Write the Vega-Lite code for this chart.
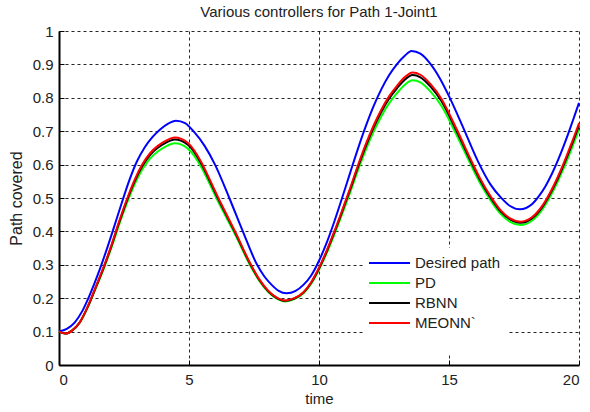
{
  "$schema": "https://vega.github.io/schema/vega-lite/v6.json",
  "width": 520,
  "height": 334,
  "autosize": {"type": "none"},
  "padding": {"left": 59, "top": 31, "right": 11, "bottom": 47},
  "background": "white",
  "title": {"text": "Various controllers for Path 1-Joint1", "font": "Liberation Sans", "fontSize": 15, "fontWeight": "normal", "color": "#222", "anchor": "middle", "offset": 4},
  "config": {
    "view": {"stroke": null},
    "axis": {
      "domainColor": "#000", "domainWidth": 2,
      "gridColor": "#000", "gridDash": [3, 3], "gridWidth": 1, "gridOpacity": 0.85,
      "tickColor": "#000", "tickSize": -5, "tickWidth": 1,
      "labelFont": "Liberation Sans", "labelFontSize": 15, "labelColor": "#222",
      "titleFont": "Liberation Sans", "titleFontSize": 15, "titleFontWeight": "normal", "titleColor": "#222"
    }
  },
  "data": {"values": [
    {"s": "Desired path", "t": 0, "v": 0.100},
    {"s": "Desired path", "t": 0.3, "v": 0.108},
    {"s": "Desired path", "t": 0.6, "v": 0.127},
    {"s": "Desired path", "t": 0.9, "v": 0.162},
    {"s": "Desired path", "t": 1.2, "v": 0.213},
    {"s": "Desired path", "t": 1.5, "v": 0.272},
    {"s": "Desired path", "t": 1.8, "v": 0.338},
    {"s": "Desired path", "t": 2.1, "v": 0.409},
    {"s": "Desired path", "t": 2.4, "v": 0.482},
    {"s": "Desired path", "t": 2.7, "v": 0.552},
    {"s": "Desired path", "t": 3.0, "v": 0.610},
    {"s": "Desired path", "t": 3.3, "v": 0.652},
    {"s": "Desired path", "t": 3.6, "v": 0.683},
    {"s": "Desired path", "t": 3.9, "v": 0.706},
    {"s": "Desired path", "t": 4.2, "v": 0.723},
    {"s": "Desired path", "t": 4.5, "v": 0.7315},
    {"s": "Desired path", "t": 4.85, "v": 0.724},
    {"s": "Desired path", "t": 5.17, "v": 0.700},
    {"s": "Desired path", "t": 5.6, "v": 0.656},
    {"s": "Desired path", "t": 6.0, "v": 0.600},
    {"s": "Desired path", "t": 6.55, "v": 0.500},
    {"s": "Desired path", "t": 7.07, "v": 0.400},
    {"s": "Desired path", "t": 7.62, "v": 0.300},
    {"s": "Desired path", "t": 7.9, "v": 0.265},
    {"s": "Desired path", "t": 8.18, "v": 0.240},
    {"s": "Desired path", "t": 8.45, "v": 0.222},
    {"s": "Desired path", "t": 8.75, "v": 0.2146},
    {"s": "Desired path", "t": 9.1, "v": 0.222},
    {"s": "Desired path", "t": 9.4, "v": 0.240},
    {"s": "Desired path", "t": 9.7, "v": 0.268},
    {"s": "Desired path", "t": 10.0, "v": 0.312},
    {"s": "Desired path", "t": 10.3, "v": 0.367},
    {"s": "Desired path", "t": 10.6, "v": 0.432},
    {"s": "Desired path", "t": 10.9, "v": 0.503},
    {"s": "Desired path", "t": 11.2, "v": 0.576},
    {"s": "Desired path", "t": 11.5, "v": 0.648},
    {"s": "Desired path", "t": 11.8, "v": 0.715},
    {"s": "Desired path", "t": 12.1, "v": 0.775},
    {"s": "Desired path", "t": 12.4, "v": 0.826},
    {"s": "Desired path", "t": 12.7, "v": 0.868},
    {"s": "Desired path", "t": 13.0, "v": 0.901},
    {"s": "Desired path", "t": 13.3, "v": 0.926},
    {"s": "Desired path", "t": 13.56, "v": 0.940},
    {"s": "Desired path", "t": 13.9, "v": 0.932},
    {"s": "Desired path", "t": 14.27, "v": 0.903},
    {"s": "Desired path", "t": 14.65, "v": 0.858},
    {"s": "Desired path", "t": 15.0, "v": 0.805},
    {"s": "Desired path", "t": 15.55, "v": 0.710},
    {"s": "Desired path", "t": 16.1, "v": 0.612},
    {"s": "Desired path", "t": 16.6, "v": 0.540},
    {"s": "Desired path", "t": 17.0, "v": 0.501},
    {"s": "Desired path", "t": 17.35, "v": 0.476},
    {"s": "Desired path", "t": 17.73, "v": 0.466},
    {"s": "Desired path", "t": 18.2, "v": 0.482},
    {"s": "Desired path", "t": 18.45, "v": 0.505},
    {"s": "Desired path", "t": 18.7, "v": 0.534},
    {"s": "Desired path", "t": 18.95, "v": 0.571},
    {"s": "Desired path", "t": 19.2, "v": 0.615},
    {"s": "Desired path", "t": 19.4, "v": 0.654},
    {"s": "Desired path", "t": 19.6, "v": 0.696},
    {"s": "Desired path", "t": 19.8, "v": 0.740},
    {"s": "Desired path", "t": 20.0, "v": 0.785},

    {"s": "PD", "t": 0, "v": 0.100},
    {"s": "PD", "t": 0.25, "v": 0.094},
    {"s": "PD", "t": 0.5, "v": 0.1029},
    {"s": "PD", "t": 0.8, "v": 0.1272},
    {"s": "PD", "t": 1.1, "v": 0.1718},
    {"s": "PD", "t": 1.4, "v": 0.2271},
    {"s": "PD", "t": 1.7, "v": 0.2843},
    {"s": "PD", "t": 2.0, "v": 0.3474},
    {"s": "PD", "t": 2.3, "v": 0.4172},
    {"s": "PD", "t": 2.6, "v": 0.4822},
    {"s": "PD", "t": 2.9, "v": 0.5394},
    {"s": "PD", "t": 3.2, "v": 0.585},
    {"s": "PD", "t": 3.5, "v": 0.618},
    {"s": "PD", "t": 3.8, "v": 0.6393},
    {"s": "PD", "t": 4.1, "v": 0.6539},
    {"s": "PD", "t": 4.45, "v": 0.6636},
    {"s": "PD", "t": 4.97, "v": 0.6471},
    {"s": "PD", "t": 5.49, "v": 0.5899},
    {"s": "PD", "t": 5.8, "v": 0.5414},
    {"s": "PD", "t": 6.13, "v": 0.488},
    {"s": "PD", "t": 6.45, "v": 0.4395},
    {"s": "PD", "t": 6.77, "v": 0.391},
    {"s": "PD", "t": 7.35, "v": 0.2989},
    {"s": "PD", "t": 7.7, "v": 0.2523},
    {"s": "PD", "t": 8.05, "v": 0.2183},
    {"s": "PD", "t": 8.35, "v": 0.1999},
    {"s": "PD", "t": 8.7, "v": 0.1902},
    {"s": "PD", "t": 9.05, "v": 0.197},
    {"s": "PD", "t": 9.4, "v": 0.2145},
    {"s": "PD", "t": 9.7, "v": 0.2436},
    {"s": "PD", "t": 10.0, "v": 0.2853},
    {"s": "PD", "t": 10.3, "v": 0.3357},
    {"s": "PD", "t": 10.6, "v": 0.3929},
    {"s": "PD", "t": 10.9, "v": 0.454},
    {"s": "PD", "t": 11.2, "v": 0.5171},
    {"s": "PD", "t": 11.5, "v": 0.5831},
    {"s": "PD", "t": 11.8, "v": 0.6442},
    {"s": "PD", "t": 12.1, "v": 0.6985},
    {"s": "PD", "t": 12.4, "v": 0.745},
    {"s": "PD", "t": 12.7, "v": 0.7839},
    {"s": "PD", "t": 13.0, "v": 0.8139},
    {"s": "PD", "t": 13.3, "v": 0.8391},
    {"s": "PD", "t": 13.6, "v": 0.8527},
    {"s": "PD", "t": 13.9, "v": 0.8463},
    {"s": "PD", "t": 14.3, "v": 0.8178},
    {"s": "PD", "t": 14.7, "v": 0.7771},
    {"s": "PD", "t": 15.3, "v": 0.6869},
    {"s": "PD", "t": 15.9, "v": 0.5899},
    {"s": "PD", "t": 16.2, "v": 0.5443},
    {"s": "PD", "t": 16.6, "v": 0.4929},
    {"s": "PD", "t": 17.0, "v": 0.4511},
    {"s": "PD", "t": 17.35, "v": 0.4288},
    {"s": "PD", "t": 17.75, "v": 0.4191},
    {"s": "PD", "t": 18.2, "v": 0.4327},
    {"s": "PD", "t": 18.6, "v": 0.4667},
    {"s": "PD", "t": 19.0, "v": 0.520},
    {"s": "PD", "t": 19.4, "v": 0.587},
    {"s": "PD", "t": 19.7, "v": 0.6442},
    {"s": "PD", "t": 20.0, "v": 0.7053},

    {"s": "RBNN", "t": 0, "v": 0.100},
    {"s": "RBNN", "t": 0.25, "v": 0.094},
    {"s": "RBNN", "t": 0.5, "v": 0.103},
    {"s": "RBNN", "t": 0.8, "v": 0.1277},
    {"s": "RBNN", "t": 1.1, "v": 0.1733},
    {"s": "RBNN", "t": 1.4, "v": 0.2297},
    {"s": "RBNN", "t": 1.7, "v": 0.2881},
    {"s": "RBNN", "t": 2.0, "v": 0.3525},
    {"s": "RBNN", "t": 2.3, "v": 0.4237},
    {"s": "RBNN", "t": 2.6, "v": 0.4901},
    {"s": "RBNN", "t": 2.9, "v": 0.5485},
    {"s": "RBNN", "t": 3.2, "v": 0.595},
    {"s": "RBNN", "t": 3.5, "v": 0.6287},
    {"s": "RBNN", "t": 3.8, "v": 0.6504},
    {"s": "RBNN", "t": 4.1, "v": 0.6653},
    {"s": "RBNN", "t": 4.45, "v": 0.6752},
    {"s": "RBNN", "t": 4.97, "v": 0.6584},
    {"s": "RBNN", "t": 5.49, "v": 0.600},
    {"s": "RBNN", "t": 5.8, "v": 0.5505},
    {"s": "RBNN", "t": 6.13, "v": 0.496},
    {"s": "RBNN", "t": 6.45, "v": 0.4465},
    {"s": "RBNN", "t": 6.77, "v": 0.397},
    {"s": "RBNN", "t": 7.35, "v": 0.303},
    {"s": "RBNN", "t": 7.7, "v": 0.2554},
    {"s": "RBNN", "t": 8.05, "v": 0.2208},
    {"s": "RBNN", "t": 8.35, "v": 0.202},
    {"s": "RBNN", "t": 8.7, "v": 0.1921},
    {"s": "RBNN", "t": 9.05, "v": 0.199},
    {"s": "RBNN", "t": 9.4, "v": 0.2168},
    {"s": "RBNN", "t": 9.7, "v": 0.2465},
    {"s": "RBNN", "t": 10.0, "v": 0.2891},
    {"s": "RBNN", "t": 10.3, "v": 0.3406},
    {"s": "RBNN", "t": 10.6, "v": 0.399},
    {"s": "RBNN", "t": 10.9, "v": 0.4614},
    {"s": "RBNN", "t": 11.2, "v": 0.5257},
    {"s": "RBNN", "t": 11.5, "v": 0.593},
    {"s": "RBNN", "t": 11.8, "v": 0.6554},
    {"s": "RBNN", "t": 12.1, "v": 0.7108},
    {"s": "RBNN", "t": 12.4, "v": 0.7584},
    {"s": "RBNN", "t": 12.7, "v": 0.798},
    {"s": "RBNN", "t": 13.0, "v": 0.8286},
    {"s": "RBNN", "t": 13.3, "v": 0.8544},
    {"s": "RBNN", "t": 13.6, "v": 0.8682},
    {"s": "RBNN", "t": 13.9, "v": 0.8613},
    {"s": "RBNN", "t": 14.3, "v": 0.8326},
    {"s": "RBNN", "t": 14.7, "v": 0.791},
    {"s": "RBNN", "t": 15.3, "v": 0.699},
    {"s": "RBNN", "t": 15.9, "v": 0.600},
    {"s": "RBNN", "t": 16.2, "v": 0.5534},
    {"s": "RBNN", "t": 16.6, "v": 0.501},
    {"s": "RBNN", "t": 17.0, "v": 0.4584},
    {"s": "RBNN", "t": 17.35, "v": 0.4356},
    {"s": "RBNN", "t": 17.75, "v": 0.4257},
    {"s": "RBNN", "t": 18.2, "v": 0.4396},
    {"s": "RBNN", "t": 18.6, "v": 0.4742},
    {"s": "RBNN", "t": 19.0, "v": 0.5287},
    {"s": "RBNN", "t": 19.4, "v": 0.597},
    {"s": "RBNN", "t": 19.7, "v": 0.6554},
    {"s": "RBNN", "t": 20.0, "v": 0.7178},

    {"s": "MEONN`", "t": 0, "v": 0.100},
    {"s": "MEONN`", "t": 0.25, "v": 0.094},
    {"s": "MEONN`", "t": 0.5, "v": 0.103},
    {"s": "MEONN`", "t": 0.8, "v": 0.128},
    {"s": "MEONN`", "t": 1.1, "v": 0.174},
    {"s": "MEONN`", "t": 1.4, "v": 0.231},
    {"s": "MEONN`", "t": 1.7, "v": 0.290},
    {"s": "MEONN`", "t": 2.0, "v": 0.355},
    {"s": "MEONN`", "t": 2.3, "v": 0.427},
    {"s": "MEONN`", "t": 2.6, "v": 0.494},
    {"s": "MEONN`", "t": 2.9, "v": 0.553},
    {"s": "MEONN`", "t": 3.2, "v": 0.600},
    {"s": "MEONN`", "t": 3.5, "v": 0.634},
    {"s": "MEONN`", "t": 3.8, "v": 0.656},
    {"s": "MEONN`", "t": 4.1, "v": 0.671},
    {"s": "MEONN`", "t": 4.45, "v": 0.681},
    {"s": "MEONN`", "t": 4.97, "v": 0.664},
    {"s": "MEONN`", "t": 5.49, "v": 0.605},
    {"s": "MEONN`", "t": 5.8, "v": 0.555},
    {"s": "MEONN`", "t": 6.13, "v": 0.500},
    {"s": "MEONN`", "t": 6.45, "v": 0.450},
    {"s": "MEONN`", "t": 6.77, "v": 0.400},
    {"s": "MEONN`", "t": 7.35, "v": 0.305},
    {"s": "MEONN`", "t": 7.7, "v": 0.257},
    {"s": "MEONN`", "t": 8.05, "v": 0.222},
    {"s": "MEONN`", "t": 8.35, "v": 0.203},
    {"s": "MEONN`", "t": 8.7, "v": 0.193},
    {"s": "MEONN`", "t": 9.05, "v": 0.200},
    {"s": "MEONN`", "t": 9.4, "v": 0.218},
    {"s": "MEONN`", "t": 9.7, "v": 0.248},
    {"s": "MEONN`", "t": 10.0, "v": 0.291},
    {"s": "MEONN`", "t": 10.3, "v": 0.343},
    {"s": "MEONN`", "t": 10.6, "v": 0.402},
    {"s": "MEONN`", "t": 10.9, "v": 0.465},
    {"s": "MEONN`", "t": 11.2, "v": 0.530},
    {"s": "MEONN`", "t": 11.5, "v": 0.598},
    {"s": "MEONN`", "t": 11.8, "v": 0.661},
    {"s": "MEONN`", "t": 12.1, "v": 0.717},
    {"s": "MEONN`", "t": 12.4, "v": 0.765},
    {"s": "MEONN`", "t": 12.7, "v": 0.805},
    {"s": "MEONN`", "t": 13.0, "v": 0.836},
    {"s": "MEONN`", "t": 13.3, "v": 0.862},
    {"s": "MEONN`", "t": 13.6, "v": 0.876},
    {"s": "MEONN`", "t": 13.9, "v": 0.869},
    {"s": "MEONN`", "t": 14.3, "v": 0.840},
    {"s": "MEONN`", "t": 14.7, "v": 0.798},
    {"s": "MEONN`", "t": 15.3, "v": 0.705},
    {"s": "MEONN`", "t": 15.9, "v": 0.605},
    {"s": "MEONN`", "t": 16.2, "v": 0.558},
    {"s": "MEONN`", "t": 16.6, "v": 0.505},
    {"s": "MEONN`", "t": 17.0, "v": 0.462},
    {"s": "MEONN`", "t": 17.35, "v": 0.439},
    {"s": "MEONN`", "t": 17.75, "v": 0.429},
    {"s": "MEONN`", "t": 18.2, "v": 0.443},
    {"s": "MEONN`", "t": 18.6, "v": 0.478},
    {"s": "MEONN`", "t": 19.0, "v": 0.533},
    {"s": "MEONN`", "t": 19.4, "v": 0.602},
    {"s": "MEONN`", "t": 19.7, "v": 0.661},
    {"s": "MEONN`", "t": 20.0, "v": 0.724}
  ]},
  "mark": {"type": "line", "strokeWidth": 2, "interpolate": "monotone"},
  "encoding": {
    "x": {
      "field": "t", "type": "quantitative",
      "scale": {"domain": [0, 20], "nice": false},
      "axis": {"values": [0, 5, 10, 15, 20], "title": "time", "labelPadding": 12, "titlePadding": 4}
    },
    "y": {
      "field": "v", "type": "quantitative",
      "scale": {"domain": [0, 1], "nice": false},
      "axis": {"values": [0, 0.1, 0.2, 0.3, 0.4, 0.5, 0.6, 0.7, 0.8, 0.9, 1], "format": "~g", "title": "Path covered", "titleFontSize": 16, "labelPadding": 11, "titlePadding": 8}
    },
    "color": {
      "field": "s", "type": "nominal",
      "scale": {"domain": ["Desired path", "PD", "RBNN", "MEONN`"], "range": ["#0000ff", "#00ff00", "#000000", "#ff0000"]},
      "legend": {
        "title": " ", "titleOrient": "bottom", "titleFontSize": 14, "titlePadding": 2,
        "orient": "none", "legendX": 304, "legendY": 217,
        "fillColor": "white", "strokeColor": "white", "padding": 5,
        "symbolType": "stroke", "symbolSize": 1681, "symbolStrokeWidth": 2,
        "clipHeight": 20, "rowPadding": 0,
        "labelFont": "Liberation Sans", "labelFontSize": 15, "labelColor": "#222", "labelOffset": 4
      }
    }
  }
}
